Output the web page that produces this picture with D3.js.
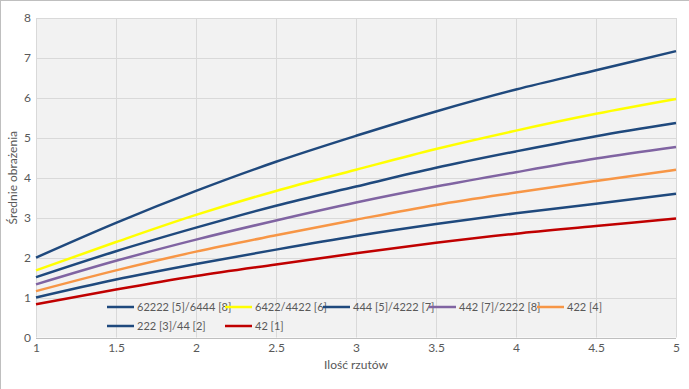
<!DOCTYPE html>
<html lang="pl">
  <head>
    <meta charset="UTF-8" />
    <title>Średnie obrażenia</title>
    <script src="https://d3js.org/d3.v7.min.js"></script>
    <style>
      body { margin: 0; background: #fff; }
      text { font-family: Lato, 'Open Sans', sans-serif; fill: #595959; }
    </style>
  </head>
  <body>
    <div id="chart"></div>
    <script>
      // rzuty (x) i wartości dla każdej serii
      const rzuty = [1, 1.5, 2, 2.5, 3, 3.5, 4, 4.5, 5]
      const s62222 = [2.0, 2.87, 3.67, 4.4, 5.05, 5.66, 6.21, 6.69, 7.17]
      const s6422 = [1.68, 2.39, 3.07, 3.67, 4.2, 4.72, 5.18, 5.6, 5.97]
      const s444 = [1.51, 2.16, 2.75, 3.3, 3.78, 4.25, 4.66, 5.04, 5.37]
      const s442 = [1.33, 1.92, 2.45, 2.93, 3.38, 3.78, 4.14, 4.48, 4.77]
      const s422 = [1.16, 1.68, 2.15, 2.56, 2.95, 3.32, 3.63, 3.92, 4.2]
      const s222 = [1.0, 1.45, 1.84, 2.2, 2.54, 2.84, 3.11, 3.35, 3.6]
      const s42 = [0.83, 1.2, 1.54, 1.83, 2.11, 2.37, 2.6, 2.79, 2.98]

      const names = ['62222 [5]/6444 [8]', '6422/4422 [6]', '444 [5]/4222 [7]', '442 [7]/2222 [8]', '422 [4]', '222 [3]/44 [2]', '42 [1]']
      const colors = ['#1f497d', '#ffff00', '#1f497d', '#8064a2', '#f79646', '#1f497d', '#c00000']
      const xTicks = [1, 1.5, 2, 2.5, 3, 3.5, 4, 4.5, 5]
      const yTicks = [0, 1, 2, 3, 4, 5, 6, 7, 8]

      const series = [s62222, s6422, s444, s442, s422, s222, s42].map((v, i) => ({
        name: names[i],
        color: colors[i],
        values: v.map((y, j) => ({ x: rzuty[j], y }))
      }))

      const width = 689
      const height = 389
      const m = { left: 36, right: 13, top: 18, bottom: 51.5 }

      const svg = d3.select('#chart').append('svg').attr('width', width).attr('height', height)

      // ramka wykresu (widoczna tylko góra i lewa)
      svg.append('rect')
        .attr('x', 0.5).attr('y', 0.5).attr('width', 720).attr('height', 420)
        .attr('fill', '#fff').attr('stroke', '#bfbfbf')

      const x = d3.scaleLinear().domain([1, 5]).range([m.left, width - m.right])
      const y = d3.scaleLinear().domain([0, 8]).range([height - m.bottom, m.top])

      svg.append('rect')
        .attr('x', x(1)).attr('y', y(8))
        .attr('width', x(5) - x(1)).attr('height', y(0) - y(8))
        .attr('fill', '#f2f2f2')

      const grid = svg.append('g').attr('stroke', '#d9d9d9').attr('stroke-width', 1)
      grid.selectAll('.gx').data(xTicks).join('line')
        .attr('x1', d => Math.round(x(d)) + 0.5).attr('x2', d => Math.round(x(d)) + 0.5)
        .attr('y1', y(8)).attr('y2', y(0))
      grid.selectAll('.gy').data(yTicks.filter(d => d > 0)).join('line')
        .attr('x1', x(1)).attr('x2', x(5))
        .attr('y1', d => Math.round(y(d)) + 0.5).attr('y2', d => Math.round(y(d)) + 0.5)
      svg.append('line')
        .attr('x1', x(1)).attr('x2', x(5))
        .attr('y1', Math.round(y(0)) + 0.5).attr('y2', Math.round(y(0)) + 0.5)
        .attr('stroke', '#bfbfbf')

      // osie
      const xAxis = svg.append('g')
        .attr('transform', `translate(0,${y(0)})`)
        .call(d3.axisBottom(x).tickValues(xTicks).tickSize(0).tickPadding(6).tickFormat(d3.format('')))
      const yAxis = svg.append('g')
        .attr('transform', `translate(${x(1)},0)`)
        .call(d3.axisLeft(y).tickValues(yTicks).tickSize(0).tickPadding(5))
      ;[xAxis, yAxis].forEach(a => {
        a.select('.domain').remove()
        a.selectAll('text').style('font-size', '12px').attr('fill', '#595959')
      })

      svg.append('text')
        .attr('x', (x(1) + x(5)) / 2).attr('y', 369)
        .attr('text-anchor', 'middle').style('font-size', '12px')
        .text('Ilość rzutów')
      svg.append('text')
        .attr('transform', `translate(17,${(y(0) + y(8)) / 2}) rotate(-90)`)
        .attr('text-anchor', 'middle').style('font-size', '12px')
        .text('Średnie obrażenia')

      const line = d3.line().x(d => x(d.x)).y(d => y(d.y)).curve(d3.curveMonotoneX)
      svg.append('g').selectAll('path').data(series).join('path')
        .attr('d', d => line(d.values))
        .attr('fill', 'none')
        .attr('stroke', d => d.color)
        .attr('stroke-width', 2.5)

      // legenda
      const legendPos = [[107, 307], [225, 307], [323, 307], [429, 307], [537, 307], [107, 326], [225, 326]]
      const lg = svg.append('g').selectAll('g').data(series).join('g')
        .attr('transform', (d, i) => `translate(${legendPos[i][0]},${legendPos[i][1]})`)
      lg.append('line').attr('x1', 0).attr('x2', 27)
        .attr('stroke', d => d.color).attr('stroke-width', 2.5)
      lg.append('text').attr('x', 30).attr('dy', '0.35em')
        .style('font-size', '11px').text(d => d.name)
    </script>
  </body>
</html>
